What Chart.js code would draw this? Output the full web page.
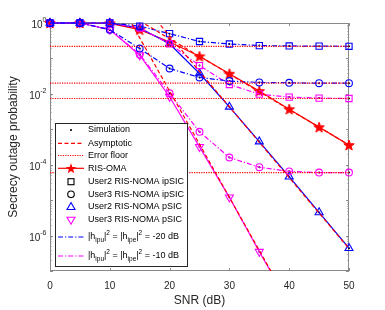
<!DOCTYPE html>
<html>
<head>
<meta charset="utf-8">
<script src="https://cdn.jsdelivr.net/npm/chart.js@4.4.0/dist/chart.umd.min.js"></script>
<style>
html, body { margin: 0; padding: 0; background: #fff; }
</style>
</head>
<body>
<canvas id="myChart" width="385" height="310"></canvas>
<script>
// SNR (dB) points
const snr = [0, 5, 10, 15, 20, 25, 30, 35, 40, 45, 50];

// simulated curves
const risOma     = [1, 1, 0.98, 0.65, 0.29, 0.115, 0.037, 0.012, 0.0037, 0.00115, 0.00036];
const u2IpsicM20 = [1, 1, 1, 0.82, 0.5, 0.3, 0.256, 0.23, 0.225, 0.222, 0.22];
const u3IpsicM20 = [1, 1, 0.65, 0.19, 0.052, 0.029, 0.023, 0.021, 0.0205, 0.02, 0.02];
const u2IpsicM10 = [1, 1, 1, 0.72, 0.26, 0.063, 0.0184, 0.0098, 0.0081, 0.0076, 0.0074];
const u3IpsicM10 = [1, 1, 0.65, 0.13, 0.0104, 0.00085, 0.00016, 0.000085, 0.000065, 0.00006, 0.00006];
const u2Psic     = [1, 1, 1, 0.72, 0.26, 0.0376, 0.0043, 0.00045, 0.000046, 0.0000045, 0.00000044];
const u3Psic     = [1, 1, 0.65, 0.123, 0.0083, 0.00032, 0.000012, 0.00000035, 0.000000012];

// asymptotic curves
const asymOmaX = [15, 20, 25, 30, 35, 40, 45, 50];
const asymOma  = [1.15, 0.36, 0.115, 0.036, 0.0115, 0.0036, 0.00115, 0.00036];
const asymU2X  = [15, 20, 25, 30, 35, 40, 45, 50];
const asymU2   = [4.3, 0.43, 0.043, 0.0043, 0.00043, 0.000043, 0.0000043, 0.00000043];
const asymU3X  = [10, 15, 20, 25, 30, 35, 40];
const asymU3   = [12, 0.38, 0.012, 0.00038, 0.000012, 0.00000038, 0.000000012];

// error floors
const floors = [0.22, 0.02, 0.0074, 0.00006];

// axis ticks
const xTicks = [0, 10, 20, 30, 40, 50];
const yLabelExp = [0, -2, -4, -6];

const FONT = '"Liberation Sans", Arial, sans-serif';
const BLUE = '#0000ff', RED = '#ff0000', MAG = '#ff00ff';

function pts(xs, ys) {
	return ys.map((y, i) => ({ x: xs[i], y: y }));
}

function starPath(g, cx, cy, R) {
	const r = R * 0.42;
	g.beginPath();
	for (let i = 0; i < 10; i++) {
		const a = -Math.PI / 2 + i * Math.PI / 5;
		const rr = i % 2 ? r : R;
		g.lineTo(cx + rr * Math.cos(a), cy + rr * Math.sin(a));
	}
	g.closePath();
}

function makeStar(size, color) {
	const c = document.createElement('canvas');
	c.width = size; c.height = size;
	const g = c.getContext('2d');
	starPath(g, size / 2, size / 2 + 0.5, size / 2 - 0.5);
	g.fillStyle = color; g.fill();
	g.strokeStyle = color; g.lineWidth = 1; g.stroke();
	return c;
}
const redStar = makeStar(12, RED);

const markerClip = { left: 10, top: 10, right: 10, bottom: 0 };

function series(ys, color, dash, style, radius, rot) {
	return {
		data: pts(snr, ys),
		borderColor: color,
		borderWidth: 1.2,
		borderDash: dash,
		pointStyle: style,
		pointRadius: radius,
		pointRotation: rot || 0,
		pointBorderColor: color,
		pointBackgroundColor: 'rgba(0,0,0,0)',
		pointBorderWidth: 1.1,
		tension: 0,
		clip: markerClip
	};
}

function simDots(ys) {
	return {
		data: pts(snr, ys),
		showLine: false,
		pointRadius: 1,
		pointBorderWidth: 0,
		pointBackgroundColor: '#000',
		clip: markerClip
	};
}

function plainLine(data, dash) {
	return { data: data, borderColor: RED, borderWidth: 1.2, borderDash: dash, pointRadius: 0, tension: 0 };
}

const DASH = [4, 2.5];
const DOT = [1.2, 1.2];
const DASHDOT = [5, 2, 1.2, 2];

var datasets = [];
floors.forEach(f => datasets.push(plainLine([{ x: 0, y: f }, { x: 50, y: f }], DOT)));
datasets.push(plainLine(pts(asymOmaX, asymOma), DASH));
datasets.push(plainLine(pts(asymU2X, asymU2), DASH));
datasets.push(plainLine(pts(asymU3X, asymU3), DASH));
datasets.push(series(u2IpsicM20, BLUE, DASHDOT, 'rect', 4.4));
datasets.push(series(u3IpsicM20, BLUE, DASHDOT, 'circle', 3.4));
datasets.push(series(u2IpsicM10, MAG, DASHDOT, 'rect', 4.4));
datasets.push(series(u3IpsicM10, MAG, DASHDOT, 'circle', 3.4));
datasets.push(series(u2Psic, BLUE, [], 'triangle', 4.6));
datasets.push(series(u3Psic, MAG, [], 'triangle', 4.6, 180));
datasets.push(series(risOma, RED, [], redStar, 6));
[u2IpsicM20, u3IpsicM20, u2IpsicM10, u3IpsicM10, u2Psic, u3Psic].forEach(s => datasets.push(simDots(s)));

// axes box, ticks, labels
const axesPlugin = {
	id: 'axesPlugin',
	beforeDatasetsDraw(chart) {
		const ctx = chart.ctx, ca = chart.chartArea;
		const xs = chart.scales.x, ys = chart.scales.y;
		ctx.save();
		ctx.strokeStyle = '#8a8a8a';
		ctx.lineWidth = 1;
		ctx.strokeRect(ca.left + 0.5, ca.top + 0.5, ca.right - ca.left - 1, ca.bottom - ca.top - 1);
		ctx.beginPath();
		xTicks.forEach(t => {
			const px = Math.round(xs.getPixelForValue(t)) + 0.5;
			ctx.moveTo(px, ca.bottom); ctx.lineTo(px, ca.bottom - 3);
			ctx.moveTo(px, ca.top); ctx.lineTo(px, ca.top + 3);
		});
		for (let e = -7; e <= 0; e++) {
			for (let m = 1; m <= 9; m++) {
				const v = m * Math.pow(10, e);
				if (v > 1 || v < 1e-7) continue;
				const py = Math.round(ys.getPixelForValue(v)) + 0.5;
				const len = m === 1 ? 3 : 1.5;
				ctx.moveTo(ca.left, py); ctx.lineTo(ca.left + len, py);
				ctx.moveTo(ca.right, py); ctx.lineTo(ca.right - len, py);
			}
		}
		ctx.stroke();

		ctx.fillStyle = '#262626';
		ctx.textBaseline = 'middle';
		ctx.textAlign = 'center';
		ctx.font = '10px ' + FONT;
		xTicks.forEach(t => ctx.fillText(String(t), xs.getPixelForValue(t), ca.bottom + 15));

		yLabelExp.forEach(e => {
			const py = ys.getPixelForValue(Math.pow(10, e));
			const sup = e === 0 ? '0' : '-' + Math.abs(e);
			ctx.font = '7px ' + FONT;
			const w2 = ctx.measureText(sup).width;
			ctx.font = '10px ' + FONT;
			const w1 = ctx.measureText('10').width;
			const right = ca.left - 3.5;
			ctx.textAlign = 'left';
			ctx.fillText('10', right - w2 - w1, py + 2.5);
			ctx.font = '7px ' + FONT;
			ctx.fillText(sup, right - w2, py - 2.5);
		});

		ctx.font = '12px ' + FONT;
		ctx.textAlign = 'center';
		ctx.fillText('SNR (dB)', (ca.left + ca.right) / 2, 301);
		ctx.translate(14, (ca.top + ca.bottom) / 2);
		ctx.rotate(-Math.PI / 2);
		ctx.fillText('Secrecy outage probability', 0, 0);
		ctx.restore();
	}
};

// boxed legend inside the axes
function drawRich(ctx, parts, x, y) {
	parts.forEach(p => {
		const size = p.s ? 6.5 : 9;
		const dy = p.s === 'sub' ? 3 : (p.s === 'sup' ? -3.5 : 0);
		ctx.font = size + 'px ' + FONT;
		ctx.fillText(p.t, x, y + dy);
		x += ctx.measureText(p.t).width;
	});
}

const legendPlugin = {
	id: 'boxLegend',
	afterDatasetsDraw(chart) {
		const ctx = chart.ctx;
		const L = 55, T = 123, R = 188, B = 267;
		const lx0 = 58, lx1 = 84, mx = 71, tx = 88;
		ctx.save();
		ctx.fillStyle = '#fff';
		ctx.fillRect(L, T, R - L, B - T);
		ctx.strokeStyle = '#262626';
		ctx.lineWidth = 1;
		ctx.strokeRect(L + 0.5, T + 0.5, R - L - 1, B - T - 1);

		function line(y, color, dash) {
			ctx.save();
			ctx.strokeStyle = color; ctx.lineWidth = 1.2; ctx.setLineDash(dash);
			ctx.beginPath(); ctx.moveTo(lx0, y); ctx.lineTo(lx1, y); ctx.stroke();
			ctx.restore();
		}
		function text(t, y) {
			ctx.fillStyle = '#000';
			ctx.font = '9px ' + FONT;
			ctx.textBaseline = 'middle';
			ctx.fillText(t, tx, y);
		}
		ctx.lineWidth = 1.1;
		// Simulation
		ctx.fillStyle = '#000';
		ctx.beginPath(); ctx.arc(mx, 130, 1.1, 0, 2 * Math.PI); ctx.fill();
		text('Simulation', 130);
		line(143.3, RED, DASH); text('Asymptotic', 143.3);
		line(155.5, RED, DOT); text('Error floor', 155.5);
		line(168.3, RED, []);
		starPath(ctx, mx, 168.8, 5.5); ctx.fillStyle = RED; ctx.fill();
		text('RIS-OMA', 168.3);
		ctx.strokeStyle = '#000'; ctx.lineWidth = 1.1;
		ctx.strokeRect(mx - 3, 181.7 - 3, 6, 6);
		text('User2 RIS-NOMA ipSIC', 181.7);
		ctx.strokeStyle = '#000';
		ctx.beginPath(); ctx.arc(mx, 194.3, 3.3, 0, 2 * Math.PI); ctx.stroke();
		text('User3 RIS-NOMA ipSIC', 194.3);
		ctx.strokeStyle = BLUE;
		ctx.beginPath(); ctx.moveTo(mx, 206.7 - 4.2); ctx.lineTo(mx + 4, 206.7 + 2.8); ctx.lineTo(mx - 4, 206.7 + 2.8); ctx.closePath(); ctx.stroke();
		text('User2 RIS-NOMA pSIC', 206.7);
		ctx.strokeStyle = MAG;
		ctx.beginPath(); ctx.moveTo(mx, 220 + 4.2); ctx.lineTo(mx + 4, 220 - 2.8); ctx.lineTo(mx - 4, 220 - 2.8); ctx.closePath(); ctx.stroke();
		text('User3 RIS-NOMA pSIC', 220);

		ctx.fillStyle = '#000';
		ctx.textBaseline = 'middle';
		line(237, BLUE, DASHDOT);
		drawRich(ctx, [{ t: '|h' }, { t: 'ipu', s: 'sub' }, { t: '|' }, { t: '2', s: 'sup' }, { t: ' = |h' }, { t: 'ipe', s: 'sub' }, { t: '|' }, { t: '2', s: 'sup' }, { t: ' = -20 dB' }], tx, 237);
		line(256, MAG, DASHDOT);
		drawRich(ctx, [{ t: '|h' }, { t: 'ipu', s: 'sub' }, { t: '|' }, { t: '2', s: 'sup' }, { t: ' = |h' }, { t: 'ipe', s: 'sub' }, { t: '|' }, { t: '2', s: 'sup' }, { t: ' = -10 dB' }], tx, 256);
		ctx.restore();
	}
};

const ctx = document.getElementById('myChart').getContext('2d');
const myChart = new Chart(ctx, {
	type: 'line',
	data: { datasets: datasets },
	options: {
		responsive: false,
		animation: false,
		events: [],
		layout: { padding: { left: 50, top: 23, right: 36, bottom: 39 } },
		plugins: { legend: { display: false }, tooltip: { enabled: false } },
		scales: {
			x: { type: 'linear', min: 0, max: 50, display: false },
			y: { type: 'logarithmic', min: 1e-7, max: 1, display: false }
		}
	},
	plugins: [axesPlugin, legendPlugin]
});
</script>
</body>
</html>
